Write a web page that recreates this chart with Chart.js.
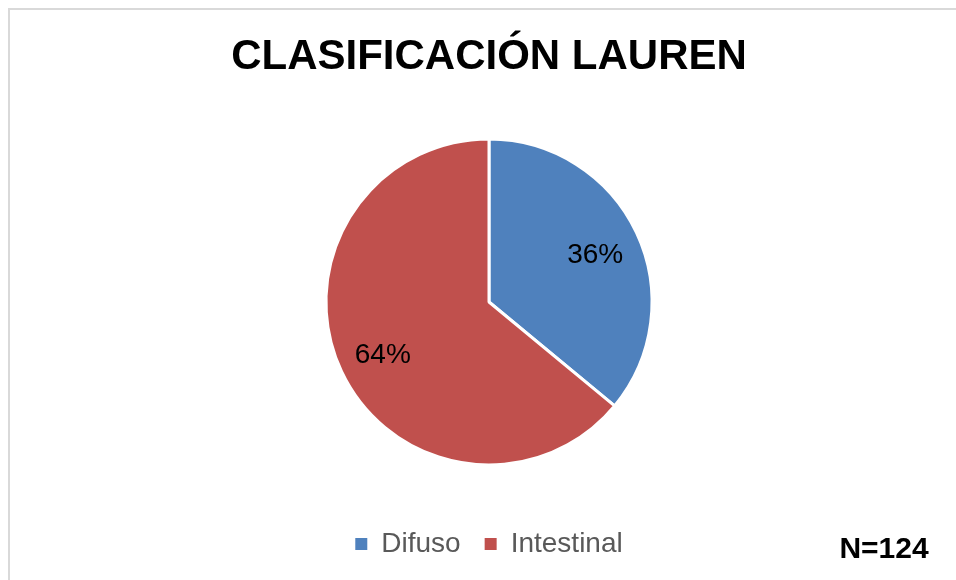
<!DOCTYPE html>
<html>
<head>
<meta charset="utf-8">
<script src="https://cdn.jsdelivr.net/npm/chart.js@4"></script>
<style>
  html, body { margin: 0; padding: 0; background: #fff; overflow: hidden; }
  #wrap { width: 956px; height: 580px; }
</style>
</head>
<body>
<div id="wrap"><canvas id="lauren" width="956" height="580"></canvas></div>
<script>
// valori
const categorias = ['Difuso', 'Intestinal'];
const porcentajes = [36, 64];
const colores = ['#4F81BD', '#C0504D'];
const tituloTexto = 'CLASIFICACIÓN LAUREN';
const notaN = 'N=124';

const FONT = "'Liberation Sans', Arial, sans-serif";

// cornice grigia, etichette % e nota N
const extras = {
    id: 'extras',
    beforeDraw(chart) {
        const ctx = chart.ctx;
        ctx.save();
        ctx.fillStyle = '#fff';
        ctx.fillRect(0, 0, chart.width, chart.height);
        ctx.strokeStyle = '#d9d9d9';
        ctx.lineWidth = 2;
        ctx.strokeRect(9, 9, 1000, 1000);
        ctx.restore();
    },
    afterDatasetsDraw(chart) {
        const ctx = chart.ctx;
        const meta = chart.getDatasetMeta(0);
        ctx.save();
        ctx.font = '28px ' + FONT;
        ctx.fillStyle = '#000';
        ctx.textAlign = 'center';
        ctx.textBaseline = 'middle';
        meta.data.forEach((arc, i) => {
            const p = arc.getProps(['x', 'y', 'startAngle', 'endAngle', 'outerRadius'], true);
            const mid = (p.startAngle + p.endAngle) / 2;
            const d = p.outerRadius * 0.72;
            ctx.fillText(porcentajes[i] + '%', p.x + Math.cos(mid) * d, p.y + Math.sin(mid) * d + 3);
        });
        ctx.font = 'bold 30px ' + FONT;
        ctx.fillText(notaN, 884, 550);
        ctx.restore();
    }
};

window.onload = () => {
    new Chart(document.getElementById('lauren').getContext('2d'), {
        type: 'pie',
        data: {
            labels: categorias,
            datasets: [{
                data: porcentajes,
                backgroundColor: colores,
                borderColor: '#fff',
                borderWidth: 3,
                radius: 163
            }]
        },
        options: {
            responsive: false,
            animation: false,
            layout: { padding: { left: 22, right: 0, top: 0, bottom: 12 } },
            plugins: {
                title: {
                    display: true,
                    text: tituloTexto,
                    color: '#000',
                    font: { family: FONT, size: 42, weight: 'bold' },
                    padding: { top: 32, bottom: 15.6 }
                },
                legend: {
                    position: 'bottom',
                    labels: {
                        color: '#595959',
                        font: { family: FONT, size: 28 },
                        boxWidth: 12,
                        boxHeight: 12,
                        padding: 24,
                        generateLabels(chart) {
                            const items = Chart.overrides.pie.plugins.legend.labels.generateLabels(chart);
                            return items.map(it => Object.assign(it, { lineWidth: 0, strokeStyle: it.fillStyle }));
                        }
                    }
                },
                tooltip: { enabled: false }
            }
        },
        plugins: [extras]
    });
};
</script>
</body>
</html>
